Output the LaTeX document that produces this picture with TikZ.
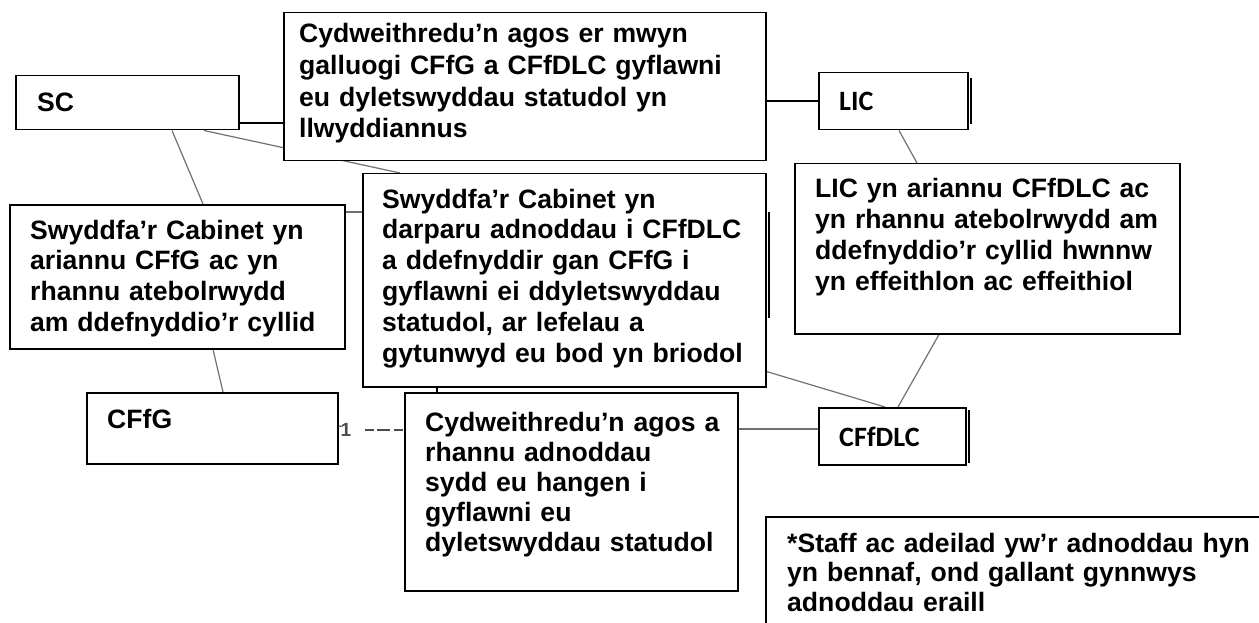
\documentclass[tikz,border=0pt]{standalone}
\usepackage{fontspec}
\setmainfont{Liberation Sans}
\newfontfamily\calfont{Carlito}
\usetikzlibrary{calc}
\pgfdeclarelayer{bg}
\pgfsetlayers{bg,main}
\definecolor{linkgray}{HTML}{707070}
\tikzset{
  box/.style={draw=black, line width=1.5pt, fill=white, inner sep=0pt, anchor=north west},
  txt/.style={inner sep=0pt, anchor=base west, align=left, text width=480pt,
    font=\bfseries\fontsize{26.6}{30.8}\selectfont},
  caltxt/.style={inner sep=0pt, anchor=base west, font=\calfont\bfseries\fontsize{28}{32}\selectfont},
  link/.style={draw=linkgray, line width=1.2pt},
  blink/.style={draw=black, line width=1.5pt},
  edgebar/.style={draw=black, line width=2.6pt}
}
\begin{document}
\begin{tikzpicture}[x=1pt,y=-1pt]
\useasboundingbox (0,0) rectangle (1259,623);
% boxes
\node[box, minimum width=223pt, minimum height=54pt] (sc) at (15,75) {};
\node[box, minimum width=482pt, minimum height=148pt] (top) at (283,12) {};
\node[box, minimum width=149pt, minimum height=57pt] (lic) at (818,72) {};
\node[box, minimum width=385pt, minimum height=170pt] (licd) at (794,163) {};
\node[box, minimum width=335pt, minimum height=144pt] (left) at (9,204) {};
\node[box, minimum width=403pt, minimum height=213pt] (mid) at (362,173) {};
\node[box, minimum width=251pt, minimum height=71pt] (cffg) at (86,392) {};
\node[box, minimum width=333pt, minimum height=198pt] (bot) at (404,392) {};
\node[box, minimum width=147pt, minimum height=57pt] (cffdlc) at (818,407) {};
\node[box, minimum width=520pt, minimum height=130pt] (foot) at (765,516) {};
% texts
\node[txt] (sct) at (37,112) {SC};
\node[txt, font=\bfseries\fontsize{26.6}{31.6}\selectfont] (topt) at (299,43) {Cydweithredu’n agos er mwyn\\galluogi CFfG a CFfDLC gyflawni\\eu dyletswyddau statudol yn\\llwyddiannus};
\node[caltxt] (lict) at (839,111) {LIC};
\node[txt, font=\bfseries\fontsize{26.6}{31.3}\selectfont] (licdt) at (815,197) {LIC yn ariannu CFfDLC ac\\yn rhannu atebolrwydd am\\ddefnyddio’r cyllid hwnnw\\yn effeithlon ac effeithiol};
\node[txt] (leftt) at (30,239) {Swyddfa’r Cabinet yn\\ariannu CFfG ac yn\\rhannu atebolrwydd\\am ddefnyddio’r cyllid};
\node[txt] (midt) at (382,208) {Swyddfa’r Cabinet yn\\darparu adnoddau i CFfDLC\\a ddefnyddir gan CFfG i\\gyflawni ei ddyletswyddau\\statudol, ar lefelau a\\gytunwyd eu bod yn briodol};
\node[txt] (cffgt) at (107,428) {CFfG};
\node[txt, font=\bfseries\fontsize{26.6}{30.2}\selectfont] (bott) at (425,431) {Cydweithredu’n agos a\\rhannu adnoddau\\sydd eu hangen i\\gyflawni eu\\dyletswyddau statudol};
\node[caltxt] (cffdlct) at (839,446) {CFfDLC};
\node[txt, font=\bfseries\fontsize{26.6}{29.5}\selectfont] (foott) at (787,552) {*Staff ac adeilad yw’r adnoddau hyn\\yn bennaf, ond gallant gynnwys\\adnoddau eraill};
\node[inner sep=0pt, text=black!70, font=\bfseries\fontsize{19}{21}\selectfont] (one) at (346,430) {1};
% gray connectors behind the boxes
\begin{pgfonlayer}{bg}
\draw[link] ([xshift=157pt]sc.south west) -- ([xshift=194pt]left.north west);
\draw[link] ([xshift=189pt]sc.south west) -- ([xshift=38pt]mid.north west);
\draw[link] ([yshift=-8pt]left.north east) -- ([yshift=-39pt]mid.north west);
\draw[link] ([xshift=204pt]left.south west) -- ([xshift=137pt]cffg.north west);
\draw[link] ([xshift=81pt]lic.south west) -- ([xshift=123pt]licd.north west);
\draw[link] ([xshift=145pt]licd.south west) -- ([xshift=80pt]cffdlc.north west);
\draw[link] ([yshift=16pt]mid.south east) -- ([xshift=67pt]cffdlc.north west);
\draw[link] ([yshift=-37pt]bot.north east) -- ([yshift=-22pt]cffdlc.north west);
\end{pgfonlayer}
% black connectors
\draw[blink] ([yshift=-48pt]sc.north east) -- ([yshift=-111pt]top.north west);
\draw[blink] ([yshift=-89pt]top.north east) -- ([yshift=-29pt]lic.north west);
\draw[draw=black!70, line width=1.5pt, dash pattern=on 9pt off 3pt on 13pt off 4pt] ([xshift=14pt]one.east) -- ([yshift=-38pt]bot.north west);
\draw[draw=black!70, line width=1.2pt] ([yshift=-34pt]cffg.north east) -- ([xshift=1pt,yshift=-3pt]one.north west);
\draw[blink] ([xshift=75pt]mid.south west) -- ([xshift=33pt]bot.north west);
% thick edge marks
\draw[edgebar] ([xshift=2.5pt,yshift=-6pt]lic.north east) -- ([xshift=2.5pt,yshift=6pt]lic.south east);
\draw[edgebar] ([xshift=2.5pt,yshift=-3pt]cffdlc.north east) -- ([xshift=2.5pt,yshift=3pt]cffdlc.south east);
\draw[edgebar] ([xshift=2.5pt,yshift=-39pt]mid.north east) -- ([xshift=2.5pt,yshift=-145pt]mid.north east);
\end{tikzpicture}
\end{document}
